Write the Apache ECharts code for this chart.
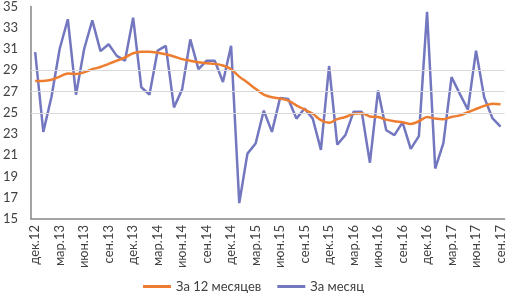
<!DOCTYPE html>
<html>
<head>
    <meta charset="utf-8">
    <script src="https://cdn.jsdelivr.net/npm/echarts@6/dist/echarts.min.js"></script>
</head>
<body style="margin:0">
    <div id="main" style="width: 507px;height:302px;"></div>
    <script type="text/javascript">
        // месяцы дек.12 - сен.17
        var months = [
            'дек.12','янв.13','фев.13','мар.13','апр.13','май.13','июн.13','июл.13','авг.13','сен.13','окт.13','ноя.13',
            'дек.13','янв.14','фев.14','мар.14','апр.14','май.14','июн.14','июл.14','авг.14','сен.14','окт.14','ноя.14',
            'дек.14','янв.15','фев.15','мар.15','апр.15','май.15','июн.15','июл.15','авг.15','сен.15','окт.15','ноя.15',
            'дек.15','янв.16','фев.16','мар.16','апр.16','май.16','июн.16','июл.16','авг.16','сен.16','окт.16','ноя.16',
            'дек.16','янв.17','фев.17','мар.17','апр.17','май.17','июн.17','июл.17','авг.17','сен.17'
        ];

        var avg12 = [
            28.0, 28.0, 28.1, 28.4, 28.7, 28.65, 28.8, 29.1, 29.3, 29.6, 29.9, 30.2,
            30.6, 30.75, 30.75, 30.65, 30.5, 30.3, 30.05, 29.9, 29.75, 29.65, 29.6, 29.45,
            29.1, 28.4, 27.85, 27.25, 26.7, 26.45, 26.35, 26.15, 25.7, 25.3, 24.9, 24.3,
            24.05, 24.4, 24.6, 24.9, 24.95, 24.65, 24.6, 24.35, 24.2, 24.1, 23.95, 24.2,
            24.6, 24.45, 24.4, 24.6, 24.75, 25.05, 25.35, 25.65, 25.85, 25.8
        ];

        var monthly = [
            30.7, 23.2, 26.5, 31.0, 33.8, 26.7, 31.0, 33.7, 30.8, 31.45, 30.35, 29.9,
            33.95, 27.4, 26.7, 30.85, 31.3, 25.5, 27.2, 31.9, 29.1, 29.9, 29.9, 27.9,
            31.3, 16.5, 21.15, 22.1, 25.2, 23.2, 26.4, 26.3, 24.45, 25.4, 24.45, 21.5,
            29.4, 22.0, 22.9, 25.1, 25.1, 20.3, 27.1, 23.35, 22.9, 24.1, 21.6, 22.8,
            34.5, 19.75, 22.15, 28.35, 26.8, 25.3, 30.85, 26.45, 24.5, 23.7
        ];

        var gridValues = [25, 27, 29];

        var option = {
            animation: false,
            textStyle: {fontFamily: 'Lato'},
            legend: {
                bottom: 4,
                left: 'center',
                itemWidth: 28,
                itemHeight: 3,
                itemGap: 16,
                icon: 'rect',
                textStyle: {fontSize: 13, color: '#404040', fontFamily: 'Lato'},
                data: ['За 12 месяцев', 'За месяц']
            },
            grid: {
                left: 28,
                right: 1,
                top: 5.5,
                bottom: 83
            },
            xAxis: {
                type: 'category',
                boundaryGap: true,
                data: months,
                axisLine: {lineStyle: {color: '#868686', width: 1.5}},
                axisTick: {show: false},
                axisLabel: {
                    rotate: 90,
                    interval: 2,
                    margin: 6,
                    padding: [8, 0, 0, 0],
                    fontSize: 13,
                    color: '#404040',
                    fontFamily: 'Lato'
                },
                splitLine: {show: false}
            },
            yAxis: {
                type: 'value',
                min: 15,
                max: 35,
                interval: 2,
                axisLine: {show: true, lineStyle: {color: '#868686', width: 1.5}},
                axisTick: {show: false},
                axisLabel: {
                    margin: 13,
                    fontSize: 13,
                    color: '#404040',
                    fontFamily: 'Lato'
                },
                splitLine: {show: false}
            },
            series: [
                {
                    name: 'grid',
                    type: 'line',
                    data: [],
                    z: 1,
                    markLine: {
                        silent: true,
                        symbol: 'none',
                        label: {show: false},
                        lineStyle: {color: '#D9D9D9', type: 'solid', width: 1},
                        data: gridValues.map(function (v) { return {yAxis: v}; })
                    }
                },
                {
                    name: 'За 12 месяцев',
                    type: 'line',
                    data: avg12,
                    z: 3,
                    smooth: 0.3,
                    showSymbol: false,
                    color: '#ED7D31',
                    lineStyle: {color: '#ED7D31', width: 2.5}
                },
                {
                    name: 'За месяц',
                    type: 'line',
                    data: monthly,
                    z: 2,
                    showSymbol: false,
                    color: '#7377BF',
                    lineStyle: {color: '#7377BF', width: 2.5}
                }
            ]
        };

        var myChart = echarts.init(document.getElementById('main'));
        myChart.setOption(option);
    </script>
</body>
</html>
